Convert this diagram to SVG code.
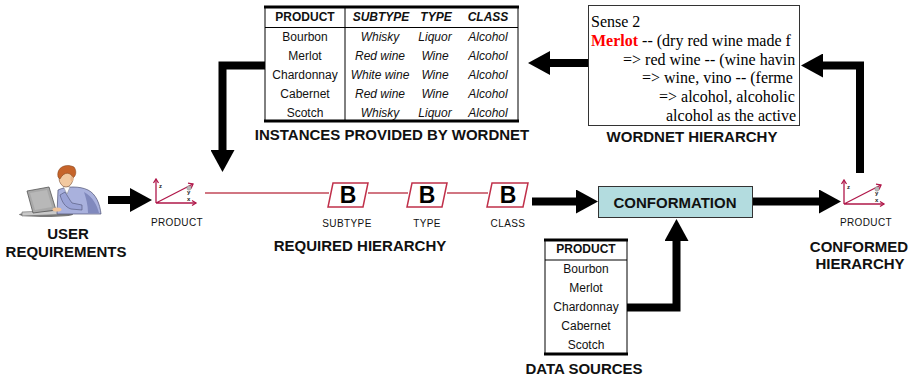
<svg xmlns="http://www.w3.org/2000/svg" width="915" height="380" viewBox="0 0 915 380">
  <style>
    .lbl { font: bold 15px "Liberation Sans", Arial, sans-serif; fill: #111; text-anchor: middle; }
    .cell { font: 12px "Liberation Sans", Arial, sans-serif; fill: #111; text-anchor: middle; }
    .hd { font-weight: bold; }
    .it { font-style: italic; }
    .sm { font: 10px "Liberation Sans", Arial, sans-serif; fill: #111; text-anchor: middle; letter-spacing: 0.4px; }
    .wn { font: 16px "Liberation Serif", "Times New Roman", serif; fill: #000; }
    .thick { stroke: #000; stroke-width: 3; }
    .thin { stroke: #000; stroke-width: 1; }
    .flow { fill: none; stroke: #000; stroke-width: 8; stroke-linejoin: miter; marker-end: url(#head); }
    .red { stroke: #c24a5a; stroke-width: 1.5; fill: none; }
    .par { fill: #fff; stroke: #c0304a; stroke-width: 1.5; }
    .bb { font: bold 23px "Liberation Sans", Arial, sans-serif; fill: #000; text-anchor: middle; }
    .ax { stroke: #b0184a; stroke-width: 1.3; fill: none; }
    .axl { font: bold 6px "Liberation Sans", Arial, sans-serif; fill: #222; }
  </style>
  <defs>
    <marker id="head" viewBox="0 0 22 24" markerUnits="userSpaceOnUse" markerWidth="22" markerHeight="24" refX="1" refY="12" orient="auto">
      <path d="M0,0 L22,12 L0,24 Z" fill="#000"/>
    </marker>
    <!-- small 3D axes glyph, origin at the axes corner -->
    <g id="axes">
      <path class="ax" d="M0,0 V-24 M0,0 H40 M0,0 L37,-19"/>
      <path class="ax" d="M-2.5,-20 L0,-24 L2.5,-20 M36,-2.5 L40,0 L36,2.5 M32,-19.8 L37,-19 L35,-14.5"/>
      <circle cx="33" cy="-15" r="2.2" fill="#bbb" stroke="#888" stroke-width="0.5"/>
      <text class="axl" x="3" y="-15">z</text>
      <text class="axl" x="31" y="-9">y</text>
      <text class="axl" x="31" y="-2">x</text>
    </g>
    <clipPath id="wnclip">
      <rect x="589" y="6" width="210" height="119"/>
    </clipPath>
  </defs>

  <!-- connectors -->
  <g id="connectors">
    <path class="flow" d="M108,200 H131"/>
    <path class="red" d="M205,193 H329 M368,193 H408 M447,193 H488"/>
    <path class="flow" d="M532,201.5 H577"/>
    <path class="flow" d="M627,307.5 H676.5 V240"/>
    <path class="flow" d="M753,201.5 H820"/>
    <path class="flow" d="M860,173 V65.5 H822"/>
    <path class="flow" d="M588,63 H549"/>
    <path class="flow" d="M265,65.5 H222.5 V151"/>
  </g>

  <!-- user at a laptop -->
  <g id="user">
    <ellipse cx="46" cy="214.5" rx="27" ry="2.5" fill="#7a7a7a"/>
    <polygon points="22,212 68,210 73,214 22,216" fill="#c9c9c9" stroke="#666" stroke-width="0.6"/>
    <polygon points="27,191 49,187 56,210 33,213" fill="#a8a8a8" stroke="#555" stroke-width="0.8"/>
    <polygon points="30,193 47,190 52,207 35,210" fill="#b8b8b8"/>
    <path d="M58,190 C66,186 80,186 88,190 C96,194 100,204 101,214 L57,214 Z" fill="#a9b1dd" stroke="#4d5274" stroke-width="0.7"/>
    <path d="M84,192 C93,197 97,205 99,213 L88,213 C88,205 86,198 84,192 Z" fill="#8089bd"/>
    <path d="M60,195 C62,202 65,207 71,209 L82,210 L82,205 L72,203 C69,199 67,195 65,192 Z" fill="#9aa3d6" stroke="#4d5274" stroke-width="0.6"/>
    <ellipse cx="57" cy="209.5" rx="4.5" ry="2" fill="#f0c39a"/>
    <path d="M63,186 L67,194 L70,187 Z" fill="#fff" stroke="#777" stroke-width="0.4"/>
    <ellipse cx="66" cy="178" rx="7" ry="9" fill="#f2c9a0" stroke="#7a4a2a" stroke-width="0.6"/>
    <path d="M58,177 C56,167 66,163 74,167 C77,171 76,176 73,178 C71,172 64,171 60,179 Z" fill="#c6642a" stroke="#7a3a12" stroke-width="0.5"/>
    <ellipse cx="72" cy="179" rx="1.6" ry="2.4" fill="#e7b48a"/>
  </g>

  <!-- axes icon: required product -->
  <g id="product-start">
    <use href="#axes" x="156" y="203"/>
    <text class="sm" x="177" y="226">PRODUCT</text>
  </g>

  <g id="user-label">
    <text class="lbl" x="68" y="239">USER</text>
    <text class="lbl" x="66" y="257">REQUIREMENTS</text>
  </g>

  <!-- required hierarchy levels -->
  <g id="subtype">
    <polygon class="par" points="333,183 368,183 363,207 328,207"/>
    <text class="bb" x="348" y="203">B</text>
    <text class="sm" x="347" y="227">SUBTYPE</text>
  </g>
  <g id="type">
    <polygon class="par" points="412,183 447,183 442,207 407,207"/>
    <text class="bb" x="427" y="203">B</text>
    <text class="sm" x="427" y="227">TYPE</text>
  </g>
  <g id="class">
    <polygon class="par" points="492,183 528,183 523,207 487,207"/>
    <text class="bb" x="508" y="203">B</text>
    <text class="sm" x="508" y="227">CLASS</text>
  </g>
  <text class="lbl" x="360" y="251">REQUIRED HIERARCHY</text>

  <!-- instances table -->
  <g id="instances">
    <rect x="265" y="7" width="253" height="114" fill="#fff"/>
    <line class="thin" x1="265" y1="7" x2="265" y2="121"/>
    <line class="thin" x1="518" y1="7" x2="518" y2="121"/>
    <line class="thin" x1="345" y1="7" x2="345" y2="121"/>
    <line class="thin" x1="265" y1="27.5" x2="518" y2="27.5"/>
    <line class="thick" x1="264" y1="7" x2="519" y2="7"/>
    <line class="thick" x1="264" y1="121" x2="519" y2="121"/>
    <text class="cell hd" x="305" y="21">PRODUCT</text>
    <text class="cell hd it" x="381" y="21">SUBTYPE</text>
    <text class="cell hd it" x="436" y="21">TYPE</text>
    <text class="cell hd it" x="488" y="21">CLASS</text>
    <text class="cell" x="305" y="41">Bourbon</text>
    <text class="cell" x="305" y="60">Merlot</text>
    <text class="cell" x="305" y="79">Chardonnay</text>
    <text class="cell" x="305" y="98">Cabernet</text>
    <text class="cell" x="305" y="117">Scotch</text>
    <text class="cell it" x="380" y="41">Whisky</text>
    <text class="cell it" x="380" y="60">Red wine</text>
    <text class="cell it" x="380" y="79">White wine</text>
    <text class="cell it" x="380" y="98">Red wine</text>
    <text class="cell it" x="380" y="117">Whisky</text>
    <text class="cell it" x="435" y="41">Liquor</text>
    <text class="cell it" x="435" y="60">Wine</text>
    <text class="cell it" x="435" y="79">Wine</text>
    <text class="cell it" x="435" y="98">Wine</text>
    <text class="cell it" x="435" y="117">Liquor</text>
    <text class="cell it" x="488" y="41">Alcohol</text>
    <text class="cell it" x="488" y="60">Alcohol</text>
    <text class="cell it" x="488" y="79">Alcohol</text>
    <text class="cell it" x="488" y="98">Alcohol</text>
    <text class="cell it" x="488" y="117">Alcohol</text>
  </g>
  <text class="lbl" x="392" y="140">INSTANCES PROVIDED BY WORDNET</text>

  <!-- wordnet hierarchy excerpt -->
  <g id="wordnet">
    <rect x="588.5" y="5.5" width="211" height="120" fill="#fff" stroke="#333" stroke-width="1"/>
    <g clip-path="url(#wnclip)" class="wn">
      <text x="591" y="27">Sense 2</text>
      <text x="591" y="46"><tspan font-weight="bold" fill="#f00">Merlot</tspan> -- (dry red wine made f</text>
      <text x="623" y="64.5">=&gt; red wine -- (wine havin</text>
      <text x="642" y="83">=&gt; wine, vino -- (ferme</text>
      <text x="659" y="102">=&gt; alcohol, alcoholic</text>
      <text x="666" y="120.5">alcohol as the active</text>
    </g>
  </g>
  <text class="lbl" x="692" y="142">WORDNET HIERARCHY</text>

  <!-- conformation step -->
  <g id="conformation">
    <rect x="598.5" y="186.5" width="154" height="31" fill="#b3dcdf" stroke="#333" stroke-width="1"/>
    <text class="lbl" x="675" y="207.5">CONFORMATION</text>
  </g>

  <!-- conformed product -->
  <g id="product-conformed">
    <use href="#axes" x="844" y="204"/>
    <text class="sm" x="866" y="226">PRODUCT</text>
    <text class="lbl" x="859" y="252">CONFORMED</text>
    <text class="lbl" x="860" y="269">HIERARCHY</text>
  </g>

  <!-- data source table -->
  <g id="data-sources">
    <rect x="545" y="240" width="82" height="114" fill="#fff"/>
    <line class="thin" x1="545" y1="240" x2="545" y2="354"/>
    <line class="thin" x1="627" y1="240" x2="627" y2="354"/>
    <line class="thin" x1="545" y1="260" x2="627" y2="260"/>
    <line class="thick" x1="544" y1="240" x2="628" y2="240"/>
    <line class="thick" x1="544" y1="354" x2="628" y2="354"/>
    <text class="cell hd" x="586" y="253">PRODUCT</text>
    <text class="cell" x="586" y="273">Bourbon</text>
    <text class="cell" x="586" y="292">Merlot</text>
    <text class="cell" x="586" y="311">Chardonnay</text>
    <text class="cell" x="586" y="330">Cabernet</text>
    <text class="cell" x="586" y="349">Scotch</text>
  </g>
  <text class="lbl" x="584" y="374">DATA SOURCES</text>
</svg>
